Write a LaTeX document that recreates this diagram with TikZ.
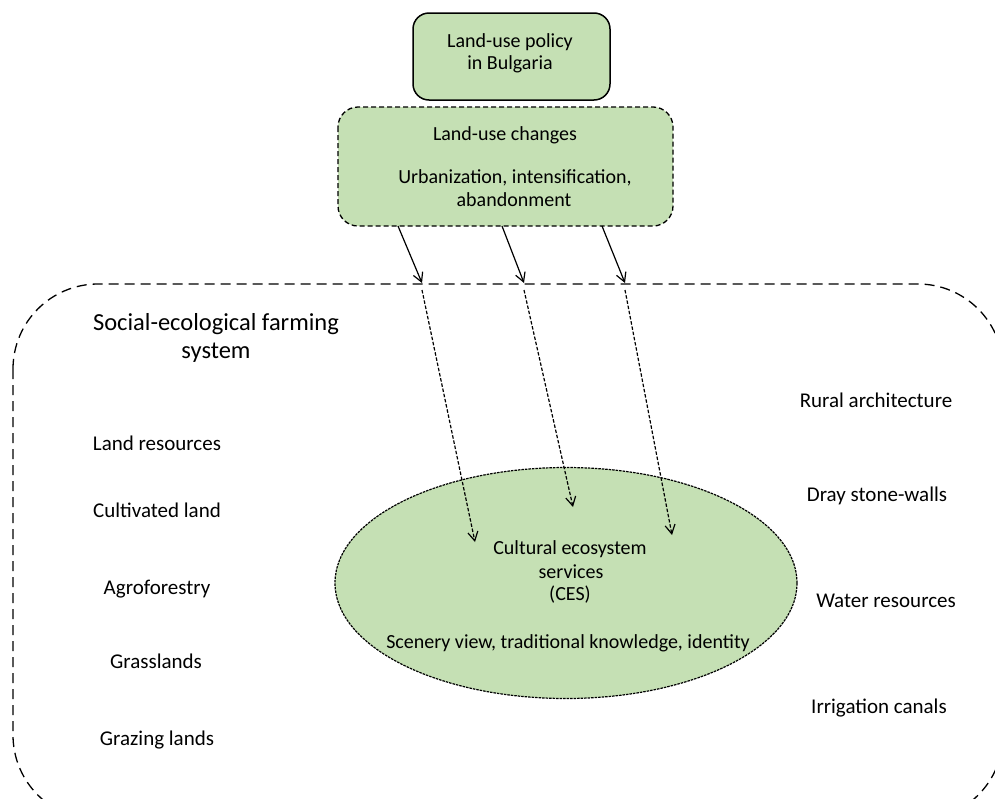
\documentclass[tikz,border=0pt]{standalone}
\usepackage{fontspec}
\setmainfont{Carlito}
\usetikzlibrary{arrows.meta,shapes.geometric}
\definecolor{leaf}{HTML}{C5E0B4}
\begin{document}
\begin{tikzpicture}[x=1pt,y=-1pt,
  txt/.style={inner sep=0pt,anchor=base,font=\fontsize{21}{24}\selectfont},
  boxtxt/.style={inner sep=0pt,anchor=base,font=\fontsize{20}{23}\selectfont},
  bigtxt/.style={inner sep=0pt,anchor=base,font=\fontsize{24.5}{28}\selectfont},
  barb/.style={-{Straight Barb[length=9pt,width=10pt]}},
  push/.style={barb,line width=1.2pt},
  seep/.style={barb,line width=1.2pt,dash pattern=on 3.5pt off 1.8pt},
]
\useasboundingbox (0,0) rectangle (995,798);
\clip (0,0) rectangle (995,798);

% outer system boundary (runs off the right and bottom edges)
\draw[line width=1.3pt,dash pattern=on 10pt off 6pt,rounded corners=85pt]
  (13,284) rectangle (1003,820);

% policy box
\draw[fill=leaf,line width=1.5pt,rounded corners=16pt] (413,13) rectangle (610,100);
\node[boxtxt] (pol1) at (510,47) {Land-use policy};
\node[boxtxt] (pol2) at (510,69) {in Bulgaria};

% land-use change box
\draw[fill=leaf,line width=1.3pt,dash pattern=on 5pt off 3pt,rounded corners=20pt]
  (338,107) rectangle (673,226);
\node[boxtxt] (chg1) at (505,140) {Land-use changes};
\node[boxtxt] (chg2) at (515,183) {Urbanization, intensification,};
\node[boxtxt] (chg3) at (514,206) {abandonment};

% cultural ecosystem services
\node[ellipse,draw,fill=leaf,line width=1.2pt,dash pattern=on 2.5pt off 1pt,
      minimum width=462pt,minimum height=231pt,inner sep=0pt] (ces) at (566,583) {};
\node[boxtxt] (ces1) at (570,554) {Cultural ecosystem};
\node[boxtxt] (ces2) at (571,578) {services};
\node[boxtxt] (ces3) at (570,600) {(CES)};
\node[boxtxt] (ces4) at (568,648) {Scenery view, traditional knowledge, identity};

% system label and components
\node[bigtxt] (sys1) at (216,330) {Social-ecological farming};
\node[bigtxt] (sys2) at (216,358) {system};

\node[txt] (l1) at (157,450) {Land resources};
\node[txt] (l2) at (157,517) {Cultivated land};
\node[txt] (l3) at (157,594) {Agroforestry};
\node[txt] (l4) at (156,668) {Grasslands};
\node[txt] (l5) at (157,745) {Grazing lands};

\node[txt] (r1) at (876,407) {Rural architecture};
\node[txt] (r2) at (877,501) {Dray stone-walls};
\node[txt] (r3) at (886,607) {Water resources};
\node[txt] (r4) at (879,713) {Irrigation canals};

% pressure arrows onto the system boundary
\coordinate (s1) at (398,226); \coordinate (e1) at (422,283);
\coordinate (s2) at (502,226); \coordinate (e2) at (524,283);
\coordinate (s3) at (602,226); \coordinate (e3) at (625,283);
\draw[push] (s1) -- (e1);
\draw[push] (s2) -- (e2);
\draw[push] (s3) -- (e3);

% effects passing through to the CES
\coordinate (t1) at (475,542); \coordinate (u1) at (422,290);
\coordinate (t2) at (573,507); \coordinate (u2) at (524,290);
\coordinate (t3) at (672,535); \coordinate (u3) at (625,290);
\draw[seep] (u1) -- (t1);
\draw[seep] (u2) -- (t2);
\draw[seep] (u3) -- (t3);
\end{tikzpicture}
\end{document}
